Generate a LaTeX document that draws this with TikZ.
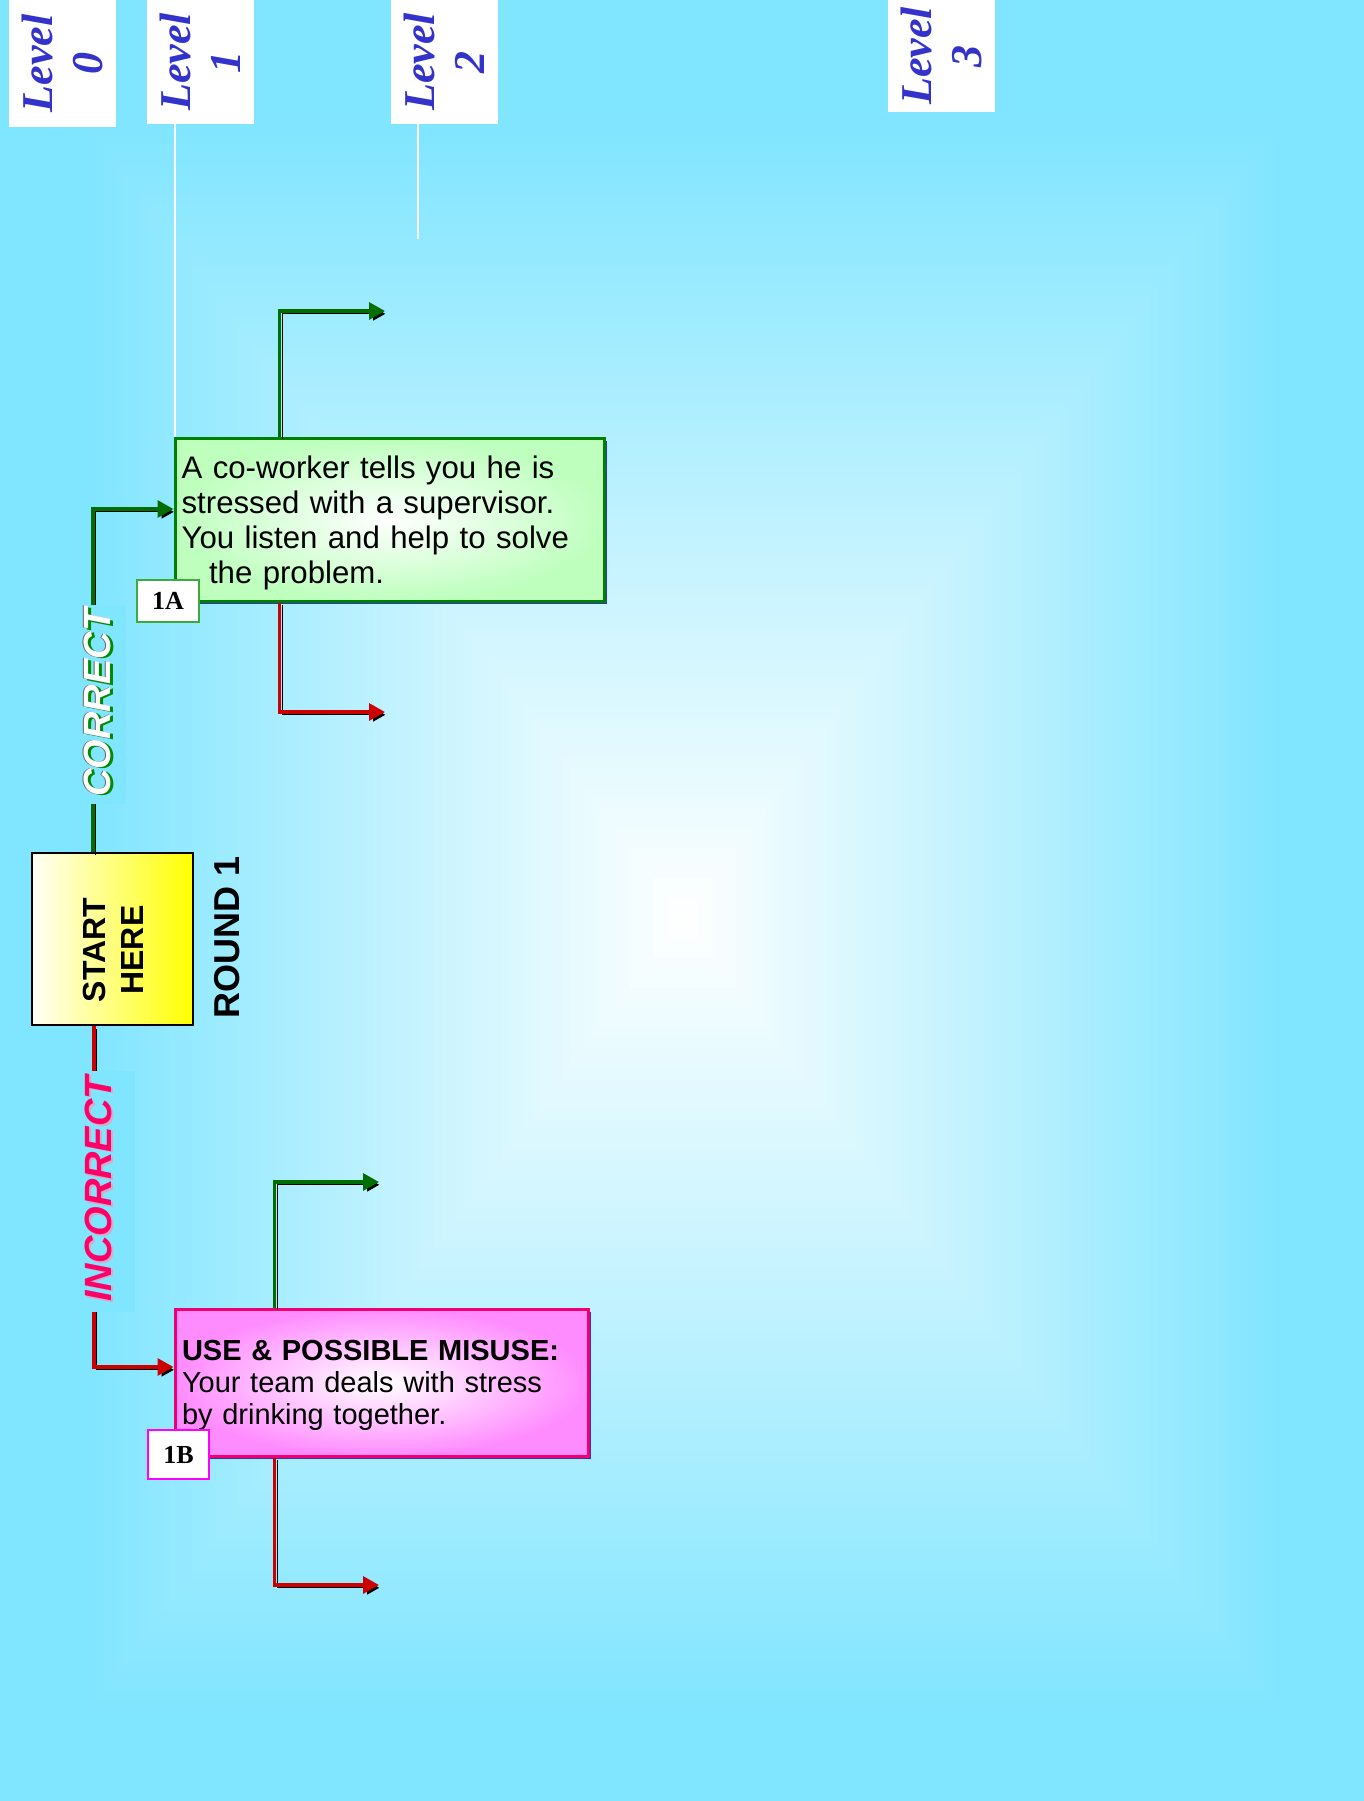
\documentclass[tikz,border=0pt]{standalone}
\usepackage{fontspec}
\setmainfont{Liberation Sans}
\newfontfamily\timesfont{Liberation Serif}
\usetikzlibrary{arrows.meta,shadows,calc}
\definecolor{bgc}{RGB}{128,229,255}
\definecolor{lvblue}{RGB}{51,51,204}
\definecolor{glinec}{RGB}{0,110,0}
\definecolor{rlinec}{RGB}{204,0,0}
\definecolor{gfill}{RGB}{190,255,190}
\definecolor{gborder}{RGB}{0,128,0}
\definecolor{pfill}{RGB}{255,140,255}
\definecolor{pborder}{RGB}{240,0,110}
\definecolor{shblue}{RGB}{51,51,204}
\definecolor{incpink}{RGB}{255,0,102}
\definecolor{incshadow}{RGB}{215,170,200}
\definecolor{corgreen}{RGB}{0,140,0}
\definecolor{labgreen}{RGB}{60,170,60}
\definecolor{labmag}{RGB}{255,0,255}
\begin{document}
\begin{tikzpicture}[x=0.5pt,y=-0.5pt,
  levelbox/.style={fill=white, draw=none, rotate=90, inner sep=0pt, minimum height=53.5pt, align=center, text=lvblue, font=\timesfont\bfseries\itshape\fontsize{22}{25}\selectfont},
  conn/.style={line width=1.6pt, -{Triangle[length=8pt,width=8.5pt]}, general shadow={draw=black, shadow xshift=1.4pt, shadow yshift=-1.4pt}},
  gconn/.style={conn, draw=glinec},
  rconn/.style={conn, draw=rlinec},
  levline/.style={draw=white, line width=0.8pt},
  greenbox/.style={rectangle, draw=gborder, line width=1.5pt, inner color=white, outer color=gfill, general shadow={fill=shblue, shadow xshift=1.5pt, shadow yshift=-1.5pt}, align=left},
  pinkbox/.style={rectangle, draw=pborder, line width=1.5pt, inner color=white, outer color=pfill, general shadow={fill=shblue, shadow xshift=1.5pt, shadow yshift=-1.5pt}, align=left},
  labbox/.style={fill=white, line width=0.6pt, inner sep=0pt, font=\timesfont\bfseries\fontsize{13}{15}\selectfont},
  rottext/.style={rotate=90, inner sep=0pt, font=\bfseries\itshape\fontsize{19}{21}\selectfont},
  labbg/.style={fill=bgc, rotate=90, inner sep=0pt, minimum height=33pt}
]
\useasboundingbox (0,0) rectangle (1364,1801);
% background
\fill[bgc] (0,0) rectangle (1364,1801);
\foreach \i in {1,...,80}{
  \pgfmathsetmacro\t{1-\i/80}
  \pgfmathsetmacro\p{100*\i/80}
  \fill[white!\p!bgc] ({683-603*\t},{918-803*\t}) rectangle ({683+603*\t},{918+803*\t});
}
% level headers
\node[levelbox, minimum width=63.5pt] (lv0) at (62.5,63.5) {Level\\0};
\node[levelbox, minimum width=62pt] (lv1) at (200.5,62) {Level\\1};
\node[levelbox, minimum width=62pt] (lv2) at (444.5,62) {Level\\2};
\node[levelbox, minimum width=56pt] (lv3) at (941.5,56) {Level\\3};
% boxes
\node[greenbox, minimum width=214.5pt, minimum height=81.5pt, text width=207.9pt, inner xsep=3.3pt, font=\fontsize{15.6}{17.4}\selectfont] (g1) at (389.5,519.5)
  {\rule{0pt}{14.9pt}A co-worker tells you he is\\stressed with a supervisor.\\You listen and help to solve\\\hspace*{13.7pt}the problem.};
\node[pinkbox, minimum width=206.5pt, minimum height=73.5pt, text width=199.5pt, inner xsep=3.5pt, font=\fontsize{14.5}{16}\selectfont] (p1) at (381.5,1382.5)
  {\rule{0pt}{12.7pt}\textbf{USE \& POSSIBLE MISUSE:}\\Your team deals with stress\\by drinking together.};
\node[draw=black, line width=1pt, left color=yellow!3!white, right color=yellow, minimum width=80.5pt, minimum height=86pt, inner sep=0pt] (start) at (112.5,939) {};
\node[rotate=90, align=center, inner sep=0pt, font=\bfseries\fontsize{16}{19}\selectfont] (starttxt) at (113,950) {START\\HERE};
\node[rotate=90, inner sep=0pt, font=\bfseries\fontsize{18}{20}\selectfont] (round) at (227.5,937) {ROUND 1};
% level lines
\coordinate (l2end) at (418,239);
\draw[levline] ($(lv1.west -| g1.west)+(1.5,0)$) -- ($(g1.north west)+(1.5,0)$);
\draw[levline] (lv2.west -| l2end) -- (l2end);
% connectors
\coordinate (g1up) at (385,311);
\coordinate (g1dn) at (385,712);
\coordinate (p1up) at (379,1182);
\coordinate (p1dn) at (379,1585);
\draw[gconn] ($(start.north west)+(62,0)$) |- ($(g1.west)+(0,-10.5)$);
\draw[rconn] ($(start.south west)+(63,0)$) |- ($(p1.west)+(0,-15.5)$);
\draw[gconn] ($(g1.north west)+(106,0)$) |- (g1up);
\draw[rconn] ($(g1.south west)+(106,0)$) |- (g1dn);
\draw[gconn] ($(p1.north west)+(101,0)$) |- (p1up);
\draw[rconn] ($(p1.south west)+(101,0)$) |- (p1dn);
% branch labels
\node[labbg, minimum width=99.5pt] (corbg) at (93,704.5) {};
\node[rottext, text=corgreen] (corsh) at (100,704) {CORRECT};
\node[rottext, text=black!60] (corol) at (96.3,702.5) {CORRECT};
\node[rottext, text=white] (cor) at (97.5,702.5) {CORRECT};
\node[labbg, minimum width=120.5pt] (incbg) at (102,1191.5) {};
\node[rottext, text=incshadow] (incsh) at (100.5,1190.5) {INCORRECT};
\node[rottext, text=incpink] (inc) at (98.5,1189) {INCORRECT};
% id labels
\node[labbox, draw=labgreen, minimum width=31pt, minimum height=21pt] (l1a) at (168,601) {1A};
\node[labbox, draw=labmag, minimum width=30.5pt, minimum height=24.5pt] (l1b) at (178.5,1454.5) {1B};
\end{tikzpicture}
\end{document}
